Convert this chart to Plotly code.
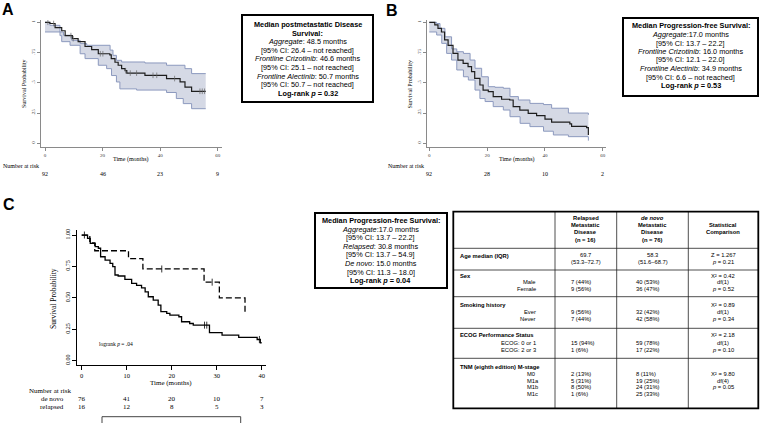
import plotly.graph_objects as go

W, H = 760, 423

# ---------------- data ----------------
# Panel A: post-metastatic disease survival (aggregate)
A_time = [0, 1.7, 3.5, 5.8, 7.0, 9.5, 11.5, 13.9, 16.2, 18.5, 22.5, 23.0, 24.3, 25.4, 26.6, 27.8, 28.4, 34.7, 42.2, 46.9, 48.6, 50.9, 55.8]
A_surv = [1.0, 0.99, 0.956, 0.93, 0.89, 0.865, 0.84, 0.80, 0.775, 0.74, 0.73, 0.70, 0.67, 0.645, 0.617, 0.60, 0.58, 0.562, 0.535, 0.507, 0.465, 0.43, 0.43]
A_up_time = [0, 1.7, 5.2, 6.4, 9.3, 12.2, 14.5, 22.6, 23.6, 24.8, 26.6, 34.7, 42.2, 48.6, 50.9, 55.8]
A_upper = [1.0, 0.975, 0.92, 0.893, 0.851, 0.824, 0.81, 0.77, 0.727, 0.686, 0.672, 0.664, 0.645, 0.617, 0.576, 0.576]
A_lo_time = [0, 5.2, 5.8, 8.7, 12.2, 13.9, 18.5, 21.4, 23.1, 24.8, 26.0, 31.8, 42.2, 45.6, 48.0, 50.9, 55.8]
A_lower = [0.92, 0.89, 0.84, 0.81, 0.74, 0.70, 0.645, 0.617, 0.56, 0.507, 0.45, 0.44, 0.42, 0.37, 0.328, 0.286, 0.286]
A_censor = [1.0, 3.0, 9.0, 9.8, 19.2, 20.1, 28.0, 29.6, 31.8, 37.5, 38.8, 45.0, 53.8, 54.6, 55.4]
A_risk_time = [0, 20, 40, 60]
A_risk = [92, 46, 23, 9]

# Panel B: progression-free survival (aggregate)
B_time = [0, 1.9, 3.0, 4.2, 5.3, 6.5, 8.2, 9.9, 11.7, 13.4, 14.6, 15.7, 17.5, 18.6, 20.4, 22.1, 25.0, 27.8, 29.0, 31.3, 34.2, 37.1, 40.0, 42.3, 48.6, 49.2, 54.4, 55.0]
B_surv = [1.0, 0.978, 0.95, 0.92, 0.854, 0.81, 0.743, 0.688, 0.66, 0.633, 0.592, 0.537, 0.482, 0.44, 0.427, 0.386, 0.364, 0.358, 0.303, 0.275, 0.248, 0.228, 0.20, 0.175, 0.16, 0.14, 0.13, 0.069]
B_up_time = [0, 2.5, 3.7, 5.4, 7.7, 9.5, 11.8, 14.1, 15.8, 18.1, 20.4, 22.7, 25.6, 27.9, 30.8, 34.8, 39.5, 42.3, 48.1, 55.0]
B_upper = [1.0, 0.99, 0.95, 0.88, 0.78, 0.757, 0.743, 0.688, 0.62, 0.55, 0.468, 0.463, 0.455, 0.386, 0.358, 0.33, 0.32, 0.29, 0.25, 0.235]
B_lo_time = [0, 2.55, 4.3, 6.0, 7.7, 9.5, 11.8, 13.5, 15.8, 17.5, 19.3, 22.1, 25.6, 27.9, 31.4, 34.8, 39.5, 42.9, 48.1, 55.0]
B_lower = [0.92, 0.895, 0.826, 0.743, 0.688, 0.606, 0.55, 0.523, 0.44, 0.37, 0.345, 0.303, 0.275, 0.22, 0.165, 0.138, 0.1, 0.069, 0.055, 0.022]
B_risk_time = [0, 20, 40, 60]
B_risk = [92, 28, 10, 2]

# Panel C: PFS by de novo vs relapsed
C_dn_time = [0, 1.3, 1.9, 3.0, 3.7, 4.2, 5.2, 6.3, 6.9, 7.4, 8.1, 9.6, 11.1, 12.2, 13.3, 14.1, 14.8, 15.9, 17.0, 17.6, 18.9, 19.6, 21.6, 22.2, 24.0, 24.8, 28.4, 31.2, 34.9, 39.0, 39.7, 40.0]
C_dn_surv = [1.0, 0.974, 0.934, 0.908, 0.895, 0.827, 0.80, 0.775, 0.748, 0.682, 0.674, 0.647, 0.616, 0.60, 0.58, 0.548, 0.509, 0.482, 0.443, 0.39, 0.376, 0.363, 0.35, 0.31, 0.296, 0.283, 0.223, 0.204, 0.185, 0.169, 0.143, 0.143]
C_rel_time = [0, 1.8, 2.9, 10.4, 13.6, 27.2, 30.6, 36.3]
C_rel_surv = [1.0, 0.9375, 0.875, 0.8125, 0.73, 0.625, 0.50, 0.375]
C_dn_censor = [0.6, 27.3, 27.8, 39.5]
C_rel_censor = [17.8, 29.0]
C_risk_time = [0, 10, 20, 30, 40]
C_dn_risk = [76, 41, 20, 10, 7]
C_rel_risk = [16, 12, 8, 5, 3]

AB_ytick_vals = [0, 0.25, 0.5, 0.75, 1]
AB_ytick_text = ["0", ".25", ".5", ".75", "1"]
AB_xtick_vals = [0, 20, 40, 60]
C_ytick_text = ["0.00", "0.25", "0.50", "0.75", "1.00"]
C_xtick_vals = [0, 10, 20, 30, 40]

box_A_lines = ["<b>Median postmetastatic Disease</b>", "<b>Survival:</b>",
               "<i>Aggregate</i>: 48.5 months", "[95% CI: 26.4 – not reached]",
               "<i>Frontline Crizotinib</i>: 46.6 months", "[95% CI: 25.1 – not reached]",
               "<i>Frontline Alectinib</i>: 50.7 months", "[95% CI: 50.7 – not reached]",
               "<b>Log-rank <i>p</i> = 0.32</b>"]
box_B_lines = ["<b>Median Progression-free Survival:</b>", "<i>Aggregate</i>:17.0 months",
               "[95% CI: 13.7 – 22.2]", "<i>Frontline Crizotinib</i>: 16.0 months",
               "[95% CI: 12.1 – 22.0]", "<i>Frontline Alectinib</i>: 34.9 months",
               "[95% CI: 6.6 – not reached]", "<b>Log-rank <i>p</i> = 0.53</b>"]
box_C_lines = ["<b>Median Progression-free Survival:</b>", "<i>Aggregate</i>:17.0 months",
               "[95% CI: 13.7 – 22.2]", "<i>Relapsed</i>: 30.8 months",
               "[95% CI: 13.7 – 54.9]", "<i>De novo</i>: 15.0 months",
               "[95% CI: 11.3 – 18.0]", "<b>Log-rank <i>p</i> = 0.04</b>"]

# Table
header_rel = ["Relapsed", "Metastatic", "Disease", "(n = 16)"]
header_dn = ["<i>de novo</i>", "Metastatic", "Disease", "(n = 76)"]
header_stat = ["Statistical", "Comparison"]
row_titles = ["Age median (IQR)", "Sex", "Smoking history", "ECOG Performance Status", "TNM (eighth edition) M-stage"]
sub_labels = [[], ["Male", "Female"], ["Ever", "Never"], ["ECOG: 0 or 1", "ECOG: 2 or 3"], ["M0", "M1a", "M1b", "M1c"]]
relapsed_vals = [["69.7", "(53.3–72.7)"], ["7 (44%)", "9 (56%)"], ["9 (56%)", "7 (44%)"], ["15 (94%)", "1 (6%)"], ["2 (13%)", "5 (31%)", "8 (50%)", "1 (6%)"]]
denovo_vals = [["58.3", "(51.6–68.7)"], ["40 (53%)", "36 (47%)"], ["32 (42%)", "42 (58%)"], ["59 (78%)", "17 (22%)"], ["8 (11%)", "19 (25%)", "24 (31%)", "25 (33%)"]]
stat_vals = [["Z = 1.267", "<i>p</i> = 0.21"], ["X² = 0.42", "df(1)", "<i>p</i> = 0.52"],
             ["X² = 0.89", "df(1)", "<i>p</i> = 0.34"], ["X² = 2.18", "df(1)", "<i>p</i> = 0.10"],
             ["X² = 9.80", "df(4)", "<i>p</i> = 0.05"]]

# ---------------- helpers ----------------
def PX(x):
    return x / W

def PY(y):
    return 1 - y / H

def steps(t, v):
    xs, ys = [t[0]], [v[0]]
    for i in range(1, len(t)):
        xs += [t[i], t[i]]
        ys += [v[i - 1], v[i]]
    return xs, ys

def step_at(t, v, x):
    val = v[0]
    for ti, vi in zip(t, v):
        if ti <= x:
            val = vi
    return val

SERIF = "Liberation Serif"
SANS = "Liberation Sans"
CI_FILL = "rgb(213,217,229)"
CI_LINE = "rgb(140,153,190)"

fig = go.Figure()

def add_km_band(t, s, ut, u, lt, l, cens, xa, ya):
    ux, uy = steps(ut, u)
    lx, ly = steps(lt, l)
    fig.add_trace(go.Scatter(x=ux + lx[::-1], y=uy + ly[::-1], fill="toself", fillcolor=CI_FILL,
                             mode="lines", line=dict(width=0), xaxis=xa, yaxis=ya, hoverinfo="skip"))
    fig.add_trace(go.Scatter(x=ut, y=u, mode="lines", line=dict(color=CI_LINE, width=1, shape="hv"), xaxis=xa, yaxis=ya))
    fig.add_trace(go.Scatter(x=lt, y=l, mode="lines", line=dict(color=CI_LINE, width=1, shape="hv"), xaxis=xa, yaxis=ya))
    fig.add_trace(go.Scatter(x=t, y=s, mode="lines", line=dict(color="#1e1e1e", width=1.2, shape="hv"), xaxis=xa, yaxis=ya))
    if cens:
        fig.add_trace(go.Scatter(x=cens, y=[step_at(t, s, c) for c in cens], mode="markers",
                                 marker=dict(symbol="line-ns", size=4, line=dict(width=0.7, color="#666")),
                                 xaxis=xa, yaxis=ya))

add_km_band(A_time, A_surv, A_up_time, A_upper, A_lo_time, A_lower, A_censor, "x", "y")
add_km_band(B_time, B_surv, B_up_time, B_upper, B_lo_time, B_lower, [], "x2", "y2")

# Panel C curves
fig.add_trace(go.Scatter(x=C_dn_time, y=C_dn_surv, mode="lines", line=dict(color="black", width=1.3, shape="hv"), xaxis="x3", yaxis="y3"))
fig.add_trace(go.Scatter(x=C_rel_time, y=C_rel_surv, mode="lines", line=dict(color="black", width=1.3, shape="hv", dash="6px,3px"), xaxis="x3", yaxis="y3"))
fig.add_trace(go.Scatter(x=C_dn_censor, y=[step_at(C_dn_time, C_dn_surv, c) for c in C_dn_censor], mode="markers",
                         marker=dict(symbol="line-ns", size=5, line=dict(width=0.8, color="black")), xaxis="x3", yaxis="y3"))
fig.add_trace(go.Scatter(x=C_rel_censor, y=[step_at(C_rel_time, C_rel_surv, c) for c in C_rel_censor], mode="markers",
                         marker=dict(symbol="line-ns", size=5, line=dict(width=0.8, color="black")), xaxis="x3", yaxis="y3"))

ab_axis_common = dict(showgrid=False, zeroline=False, showline=True, linecolor="#8a8a8a", linewidth=1,
                      ticks="outside", ticklen=3, tickwidth=1, tickcolor="#8a8a8a",
                      tickfont=dict(family=SERIF, size=5, color="#333"))
c_axis_common = dict(showgrid=False, zeroline=False, showline=True, linecolor="black", linewidth=1,
                     ticks="outside", ticklen=4, tickwidth=1, tickcolor="black",
                     tickfont=dict(family=SERIF, size=6.5, color="black"))

AB_ydom = [PY(146.7), PY(20)]
fig.update_layout(
    width=W, height=H, margin=dict(l=0, r=0, t=0, b=0),
    paper_bgcolor="white", plot_bgcolor="white", showlegend=False,
    xaxis=dict(domain=[PX(41), PX(221.7)], range=[-1.39, 61.35], anchor="y", tickvals=AB_xtick_vals, **ab_axis_common),
    yaxis=dict(domain=AB_ydom, range=[-0.028, 1.019], anchor="x", tickvals=AB_ytick_vals, ticktext=AB_ytick_text,
               tickangle=-90, **ab_axis_common),
    xaxis2=dict(domain=[PX(426.7), PX(606)], range=[-0.9, 61.1], anchor="y2", tickvals=AB_xtick_vals, **ab_axis_common),
    yaxis2=dict(domain=AB_ydom, range=[-0.028, 1.019], anchor="x2", tickvals=AB_ytick_vals, ticktext=AB_ytick_text,
                tickangle=-90, **ab_axis_common),
    xaxis3=dict(domain=[PX(77.3), PX(265.7)], range=[-0.98, 40.9], anchor="y3", tickvals=C_xtick_vals, **c_axis_common),
    yaxis3=dict(domain=[PY(365), PY(230)], range=[-0.034, 1.04], anchor="x3", tickvals=AB_ytick_vals, ticktext=C_ytick_text,
                tickangle=-90, **{**c_axis_common, "tickfont": dict(family=SERIF, size=6, color="black")}),
)

ann = []
shapes = []

def text(x, y, s, size, family=SANS, xanchor="center", angle=0, color="black"):
    ann.append(dict(x=PX(x), y=PY(y), xref="paper", yref="paper", text=s, showarrow=False,
                    xanchor=xanchor, yanchor="middle", textangle=angle,
                    font=dict(family=family, size=size, color=color)))

# Panel labels
text(7.5, 9.5, "<b>A</b>", 16)
text(391.5, 10, "<b>B</b>", 16)
text(8.5, 204, "<b>C</b>", 16)

# Panel A/B axis texts
text(23.5, 83.5, "Survival Probability", 6, SERIF, angle=-90)
text(131, 159.3, "Time (months)", 6, SERIF)
text(1, 165.7, "Number at risk", 6, SERIF, xanchor="left")
text(409, 83.5, "Survival Probability", 6, SERIF, angle=-90)
text(516.7, 159.3, "Time (months)", 6, SERIF)
text(386, 165.7, "Number at risk", 6, SERIF, xanchor="left")
for t, n in zip(A_risk_time, A_risk):
    ann.append(dict(x=t, y=PY(174), xref="x", yref="paper", text=str(n), showarrow=False, yanchor="middle",
                    font=dict(family=SERIF, size=6, color="black")))
for t, n in zip(B_risk_time, B_risk):
    ann.append(dict(x=t, y=PY(174), xref="x2", yref="paper", text=str(n), showarrow=False, yanchor="middle",
                    font=dict(family=SERIF, size=6, color="black")))

# Panel C axis texts
text(53, 298, "Survival Probability", 7.5, SERIF, angle=-90)
text(171, 383, "Time (months)", 7, SERIF)
text(26.7, 391, "Number at risk", 7, SERIF, xanchor="left")
text(65.7, 399.3, "de novo", 7, SERIF, xanchor="right")
text(65.7, 407.3, "relapsed", 7, SERIF, xanchor="right")
text(96.7, 344.3, "logrank <i>p</i> = .04", 5.5, SERIF, xanchor="left")
for t, a, b in zip(C_risk_time, C_dn_risk, C_rel_risk):
    ann.append(dict(x=t, y=PY(399.3), xref="x3", yref="paper", text=str(a), showarrow=False, yanchor="middle",
                    font=dict(family=SERIF, size=7, color="black")))
    ann.append(dict(x=t, y=PY(407.3), xref="x3", yref="paper", text=str(b), showarrow=False, yanchor="middle",
                    font=dict(family=SERIF, size=7, color="black")))

# bracket below panel C
for (x0, y0, x1, y1) in [(102, 416.7, 240.7, 416.7), (102, 416.7, 102, 424), (240.7, 416.7, 240.7, 424)]:
    shapes.append(dict(type="line", xref="paper", yref="paper", x0=PX(x0), y0=PY(y0), x1=PX(x1), y1=PY(y1),
                       line=dict(color="#444", width=1)))

# Boxes
def rect(x0, y0, x1, y1, w=2):
    shapes.append(dict(type="rect", xref="paper", yref="paper", x0=PX(x0), y0=PY(y1), x1=PX(x1), y1=PY(y0),
                       line=dict(color="black", width=w), fillcolor="rgba(0,0,0,0)"))

def box(x0, y0, x1, y1, lines, first, step, size):
    rect(x0, y0, x1, y1)
    cx = (x0 + x1) / 2
    for i, s in enumerate(lines):
        text(cx, first + i * step, s, size)

box(242, 15, 373, 102, box_A_lines, 24.5, 8.6, 7.3)
box(623, 18, 758, 96, box_B_lines, 26, 8.5, 7.3)
box(315, 213, 447, 288, box_C_lines, 220.5, 8.6, 7.3)

# Table
col_x = [453.3, 555, 616.7, 688.3, 758.3]
row_y = [211.7, 248.3, 270, 296.7, 328.3, 358.3, 408.3]
TF = 5.8
for x in col_x[1:-1]:
    shapes.append(dict(type="line", xref="paper", yref="paper", x0=PX(x), x1=PX(x), y0=PY(row_y[0]), y1=PY(row_y[-1]),
                       line=dict(color="#222", width=0.8)))
for y in row_y[1:-1]:
    shapes.append(dict(type="line", xref="paper", yref="paper", x0=PX(col_x[0]), x1=PX(col_x[-1]), y0=PY(y), y1=PY(y),
                       line=dict(color="#222", width=0.8)))
rect(col_x[0], row_y[0], col_x[-1], row_y[-1], 1.8)

c1 = (col_x[1] + col_x[2]) / 2
c2 = (col_x[2] + col_x[3]) / 2
c3 = (col_x[3] + col_x[4]) / 2
hdr_y = [218, 225, 232.5, 239.5]
for y, s in zip(hdr_y, header_rel):
    text(c1, y, "<b>" + s + "</b>", TF)
for y, s in zip(hdr_y, header_dn):
    text(c2, y, "<b>" + s + "</b>", TF)
for y, s in zip(hdr_y[1:3], header_stat):
    text(c3, y, "<b>" + s + "</b>", TF)

title_y = [255.5, 276, 304.5, 335, 366.7]
sub_y = [[], [282.3, 288.8], [312.3, 319.3], [343, 350], [374, 380.5, 387, 393.5]]
stat_y = [[255, 261.7], [275.5, 282.3, 288.8], [304.5, 312.3, 319.3], [335, 343, 350], [374, 380.5, 387]]
for i, title in enumerate(row_titles):
    text(458, title_y[i], "<b>" + title + "</b>", TF, xanchor="left")
    if i == 0:
        for y, a, b in zip(stat_y[0], relapsed_vals[0], denovo_vals[0]):
            text(c1, y, a, TF)
            text(c2, y, b, TF)
    else:
        for j, y in enumerate(sub_y[i]):
            if i == 4:
                text(525, y, sub_labels[i][j], TF, xanchor="left")
            else:
                text(538, y, sub_labels[i][j], TF, xanchor="right")
            text(569, y, relapsed_vals[i][j], TF, xanchor="left")
            text(634, y, denovo_vals[i][j], TF, xanchor="left")
    for y, s in zip(stat_y[i], stat_vals[i]):
        text(c3, y, s, TF)

fig.update_layout(annotations=ann, shapes=shapes)
fig.write_html("out.html", config={"displayModeBar": False},
               post_script="document.body.style.margin='0';document.body.style.padding='0';")
